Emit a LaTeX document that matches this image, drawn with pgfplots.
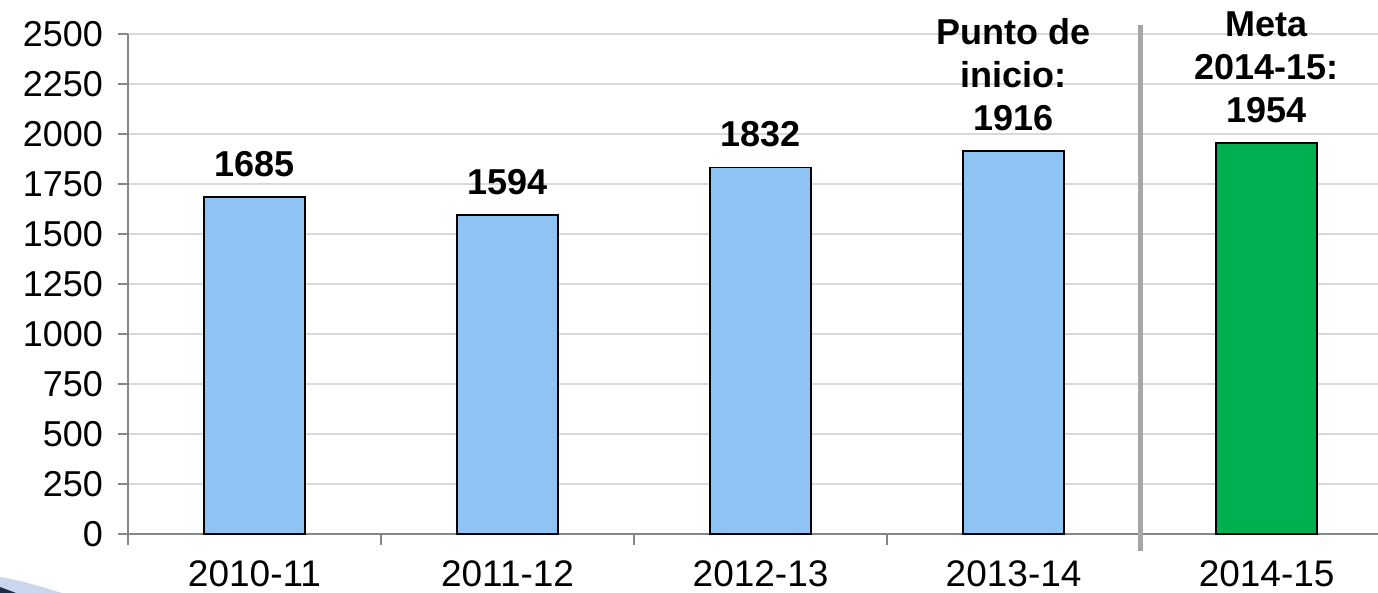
\documentclass[border=0pt]{standalone}
\usepackage{pgfplots}
\pgfplotsset{compat=1.18}
\usepackage{fontspec}
\setmainfont{Liberation Sans}
\definecolor{barblue}{HTML}{8FC3F3}
\definecolor{bargreen}{HTML}{00AF50}
\definecolor{axgray}{HTML}{868686}
\definecolor{gridgray}{HTML}{D9D9D9}
\definecolor{sepgray}{HTML}{A6A6A6}
\definecolor{swoosh}{HTML}{C9D6EE}
\definecolor{navy}{HTML}{1F2A44}
\begin{document}
\begin{tikzpicture}
\begin{axis}[
  name=ax,
  scale only axis,
  width=625pt, height=250pt,
  xmin=-0.5, xmax=4.44,
  ymin=0, ymax=2500,
  ytick={0,250,...,2500},
  xtick={0,1,2,3,4},
  xticklabels={2010-11,2011-12,2012-13,2013-14,2014-15},
  minor xtick={-0.5,0.5,1.5,2.5,3.5},
  major x tick style={draw=none},
  minor x tick style={draw=axgray, line width=0.75pt},
  y tick style={draw=axgray, line width=0.75pt},
  minor tick length=5.5pt,
  major tick length=5pt,
  tick align=outside,
  axis x line*=bottom,
  axis y line*=left,
  axis line style={draw=axgray, line width=0.75pt, -},
  ymajorgrids,
  grid style={draw=gridgray, line width=0.75pt},
  tick label style={font=\fontsize{18}{20}\selectfont},
  xticklabel style={font=\fontsize{18.5}{20}\selectfont, yshift=-5pt},
  /pgf/number format/1000 sep={},
  /pgf/number format/assume math mode=true,
  yticklabel style={xshift=-4pt},
  clip=false,
]
\addplot[ybar, bar width=0.4, fill=barblue, draw=black, line width=0.9pt]
  coordinates {(0,1685) (1,1594) (2,1832) (3,1916)};
\addplot[ybar, bar width=0.4, fill=bargreen, draw=black, line width=0.9pt]
  coordinates {(4,1954)};
\draw[sepgray, line width=2.5pt] (axis cs:3.5,2545) -- (axis cs:3.5,-85);
\begin{scope}[every node/.style={anchor=south, inner sep=0pt, align=center,
  font=\bfseries\fontsize{18}{21.5}\selectfont}]
\node at ([yshift=10pt]axis cs:0,1685) {1685};
\node at ([yshift=10pt]axis cs:1,1594) {1594};
\node at ([yshift=10pt]axis cs:2,1832) {1832};
\node at ([yshift=10pt]axis cs:3,1916) {Punto de\\inicio:\\1916};
\node at ([yshift=10pt]axis cs:4,1954) {Meta\\2014-15:\\1954};
\end{scope}
\end{axis}
\pgfresetboundingbox
\path[use as bounding box] ([xshift=-64pt,yshift=-29.5pt]ax.south west) rectangle ([yshift=17pt]ax.north east);
\fill[swoosh] ([xshift=-64pt,yshift=-29.5pt]ax.south west) -- ++(0,8pt) .. controls +(12pt,-2pt) and +(-10pt,3pt) .. ++(31pt,-8pt) -- cycle;
\fill[navy] ([xshift=-64pt,yshift=-29.5pt]ax.south west) -- ++(0,3pt) -- ++(8pt,-3pt) -- cycle;
\end{tikzpicture}
\end{document}
